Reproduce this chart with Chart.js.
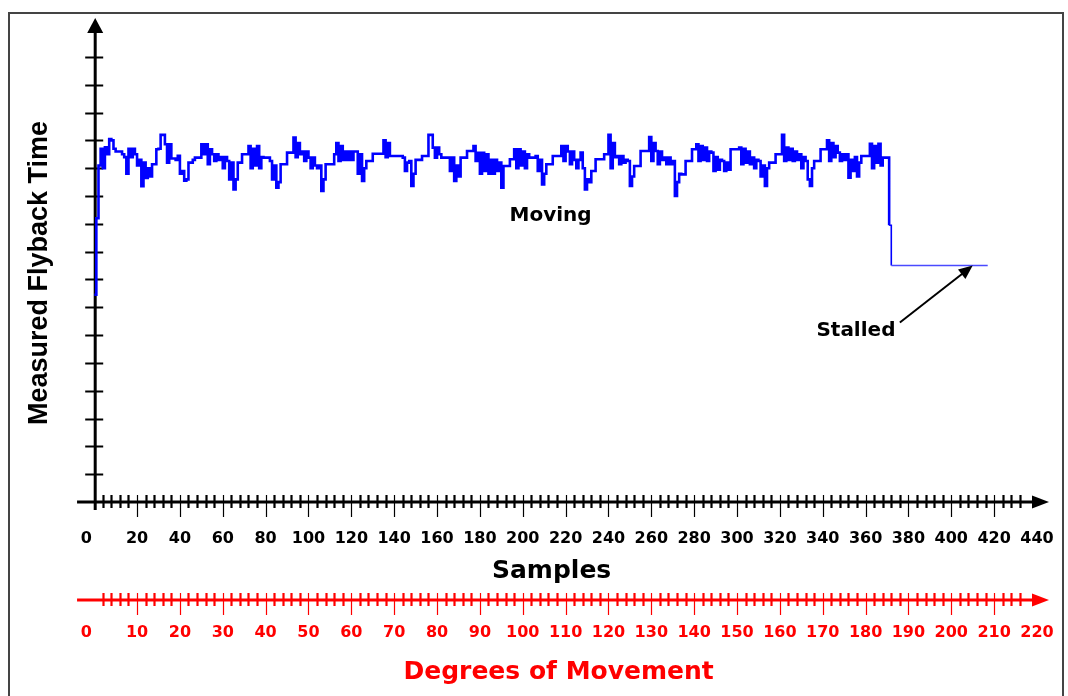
<!DOCTYPE html>
<html>
<head>
<meta charset="utf-8">
<script src="https://cdn.jsdelivr.net/npm/chart.js@4.4.0/dist/chart.umd.min.js"></script>
<style>
body { margin: 0; background: #fff; }
#wrap { width: 1068px; height: 696px; position: relative; }
</style>
</head>
<body>
<div id="wrap"><canvas id="flyback-chart"></canvas></div>
<script>
// flyback time per sample while moving (samples 0..370)
const movingTime = [
    7.45, 10.2, 12.1, 12.7, 12.0, 12.75, 12.5, 13.05, 13.0, 12.7,
    12.6, 12.6, 12.6, 12.5, 12.4, 11.8, 12.7, 12.4, 12.7, 12.5,
    12.1, 12.3, 11.35, 12.2, 11.65, 12.0, 11.7, 12.14, 12.14, 12.68,
    12.7, 13.2, 13.2, 12.86, 12.2, 12.86, 12.35, 12.35, 12.3, 12.45,
    11.8, 11.9, 11.55, 11.6, 12.2, 12.2, 12.3, 12.38, 12.38, 12.38,
    12.86, 12.5, 12.86, 12.14, 12.68, 12.5, 12.26, 12.5, 12.3, 12.4,
    12.0, 12.4, 12.26, 11.6, 12.2, 11.24, 11.6, 12.2, 12.2, 12.5,
    12.5, 12.5, 12.8, 12.0, 12.7, 12.1, 12.8, 12.0, 12.4, 12.38,
    12.38, 12.38, 12.26, 11.6, 12.1, 11.3, 11.5, 12.14, 12.14, 12.14,
    12.56, 12.56, 12.56, 13.1, 12.4, 12.9, 12.5, 12.6, 12.26, 12.6,
    12.38, 12.0, 12.38, 12.1, 12.0, 12.1, 11.18, 11.6, 12.14, 12.14,
    12.14, 12.14, 12.5, 12.9, 12.26, 12.8, 12.3, 12.6, 12.3, 12.6,
    12.3, 12.6, 12.6, 11.8, 12.5, 11.54, 12.0, 12.26, 12.26, 12.26,
    12.52, 12.52, 12.52, 12.52, 12.52, 13.0, 12.4, 12.9, 12.44, 12.44,
    12.44, 12.44, 12.44, 12.44, 12.38, 11.9, 12.2, 12.26, 11.36, 11.8,
    12.3, 12.3, 12.3, 12.44, 12.44, 12.44, 13.2, 13.2, 12.74, 12.38,
    12.74, 12.5, 12.38, 12.38, 12.38, 12.38, 11.9, 12.38, 11.54, 12.1,
    11.7, 12.38, 12.38, 12.38, 12.62, 12.62, 12.62, 12.8, 12.26, 12.55,
    11.8, 12.55, 11.9, 12.5, 11.8, 12.3, 11.8, 12.3, 11.9, 12.2,
    11.3, 12.08, 12.08, 12.08, 12.32, 12.32, 12.68, 12.0, 12.68, 12.1,
    12.6, 12.0, 12.5, 12.38, 12.38, 12.38, 12.44, 11.9, 12.3, 11.42,
    11.8, 12.14, 12.14, 12.14, 12.44, 12.44, 12.44, 12.44, 12.8, 12.26,
    12.8, 12.6, 12.14, 12.6, 12.3, 12.0, 12.3, 12.56, 12.0, 11.24,
    11.6, 11.5, 11.9, 11.9, 12.32, 12.32, 12.32, 12.32, 12.5, 12.5,
    13.2, 12.0, 12.9, 12.4, 12.44, 12.14, 12.44, 12.2, 12.3, 12.26,
    11.36, 11.7, 12.08, 12.08, 12.08, 12.62, 12.62, 12.62, 12.62, 13.12,
    12.26, 12.9, 12.62, 12.14, 12.6, 12.3, 12.38, 12.14, 12.38, 12.14,
    12.26, 11.0, 11.5, 11.8, 11.78, 11.78, 12.26, 12.26, 12.26, 12.68,
    12.68, 12.86, 12.26, 12.8, 12.3, 12.74, 12.26, 12.6, 12.56, 11.9,
    12.4, 11.95, 12.3, 12.26, 11.9, 12.2, 11.95, 12.68, 12.68, 12.68,
    12.68, 12.74, 12.14, 12.7, 12.2, 12.6, 12.14, 12.38, 12.0, 12.3,
    12.26, 11.7, 12.1, 11.36, 12.0, 12.2, 12.2, 12.2, 12.5, 12.5,
    12.5, 13.2, 12.26, 12.74, 12.3, 12.7, 12.26, 12.6, 12.3, 12.5,
    12.0, 12.4, 12.26, 11.6, 11.36, 12.0, 12.26, 12.26, 12.26, 12.68,
    12.68, 12.68, 13.0, 12.26, 12.9, 12.4, 12.8, 12.56, 12.26, 12.5,
    12.3, 12.5, 11.66, 12.3, 11.9, 12.4, 11.7, 12.2, 12.44, 12.44,
    12.44, 12.44, 12.88, 12.0, 12.8, 12.2, 12.88, 12.1, 12.38, 12.38,
    12.38
];

// after the motor stalls
const stallSamples = [371, 372, 417];
const stallTime = [9.95, 8.5, 8.5];

// axis tick labels
const sampleLabels = ['0', '20', '40', '60', '80', '100', '120', '140', '160', '180', '200', '220',
    '240', '260', '280', '300', '320', '340', '360', '380', '400', '420', '440'];
const degreeLabels = ['0', '10', '20', '30', '40', '50', '60', '70', '80', '90', '100', '110',
    '120', '130', '140', '150', '160', '170', '180', '190', '200', '210', '220'];
const yTickValues = [1, 2, 3, 4, 5, 6, 7, 8, 9, 10, 11, 12, 13, 14, 15, 16];

const flybackPoints = movingTime.map((v, i) => ({ x: i, y: v }))
    .concat(stallSamples.map((s, i) => ({ x: s, y: stallTime[i] })));

const RED = '#ff0000';
const tickFont = 'bold 16px "DejaVu Sans"';
const titleFont = 'bold 25px "DejaVu Sans"';
const noteFont = 'bold 20px "DejaVu Sans"';

function arrowHead(ctx, x, y, angle, len, half, color) {
    ctx.save();
    ctx.translate(x, y);
    ctx.rotate(angle);
    ctx.fillStyle = color;
    ctx.beginPath();
    ctx.moveTo(0, 0);
    ctx.lineTo(-len, -half);
    ctx.lineTo(-len, half);
    ctx.closePath();
    ctx.fill();
    ctx.restore();
}

// horizontal axis with crossing ticks, labels and title
function drawHAxis(ctx, scale, yLine, color, labels, minorStep, majorStep, lastTick, title, offsets) {
    const left = scale.getPixelForValue(-minorStep * 2);
    const right = scale.getPixelForValue(scale.max) + 12;
    ctx.strokeStyle = color;
    ctx.lineWidth = 3;
    ctx.beginPath();
    ctx.moveTo(left, yLine);
    ctx.lineTo(right - 6, yLine);
    ctx.stroke();
    arrowHead(ctx, right, yLine, 0, 17, 6.5, color);

    for (let v = minorStep; v <= lastTick; v += minorStep) {
        const px = Math.round(scale.getPixelForValue(v)) + 0.5;
        const major = v % majorStep === 0;
        ctx.lineWidth = major ? 1.2 : 2.2;
        ctx.beginPath();
        ctx.moveTo(px, yLine - 7);
        ctx.lineTo(px, yLine + (major ? 15 : 6));
        ctx.stroke();
    }

    ctx.fillStyle = color;
    ctx.font = tickFont;
    ctx.textAlign = 'center';
    ctx.textBaseline = 'middle';
    labels.forEach(l => {
        const v = Number(l);
        ctx.fillText(l, scale.getPixelForValue(v) + (v === 0 ? -8 : 0), yLine + offsets.label);
    });

    ctx.font = titleFont;
    ctx.fillText(title, (scale.left + scale.right) / 2 + offsets.titleX, yLine + offsets.title);
}

const axesPlugin = {
    id: 'axes',
    beforeDraw(chart) {
        const ctx = chart.ctx;
        ctx.save();
        ctx.strokeStyle = '#444';
        ctx.lineWidth = 2;
        ctx.strokeRect(9, 13, 1054, 700);
        ctx.restore();
    },
    beforeDatasetsDraw(chart) {
        const { ctx, scales: { x, y, deg } } = chart;
        const yZero = y.getPixelForValue(0);
        const xZero = x.getPixelForValue(0);
        ctx.save();

        // y axis
        ctx.strokeStyle = '#000';
        ctx.lineWidth = 3;
        ctx.beginPath();
        ctx.moveTo(xZero + 1, yZero + 8);
        ctx.lineTo(xZero + 1, y.getPixelForValue(y.max) + 10);
        ctx.stroke();
        arrowHead(ctx, xZero + 1, y.getPixelForValue(y.max), -Math.PI / 2, 15, 8, '#000');
        ctx.lineWidth = 2;
        yTickValues.forEach(v => {
            const py = Math.round(y.getPixelForValue(v)) + 0.5;
            ctx.beginPath();
            ctx.moveTo(xZero - 9, py);
            ctx.lineTo(xZero + 9, py);
            ctx.stroke();
        });

        ctx.save();
        ctx.translate(40, (y.top + y.bottom) / 2 + 13);
        ctx.rotate(-Math.PI / 2);
        ctx.fillStyle = '#000';
        ctx.font = 'bold 27px "Liberation Sans", Arial';
        ctx.textAlign = 'center';
        ctx.textBaseline = 'middle';
        ctx.fillText('Measured Flyback Time', 0, 0);
        ctx.restore();

        // samples axis and degrees axis
        drawHAxis(ctx, x, yZero, '#000', sampleLabels, 4, 20, 432, 'Samples',
            { label: 37, title: 69, titleX: -14 });
        drawHAxis(ctx, deg, yZero + 98, RED, degreeLabels, 2, 10, 216, 'Degrees of Movement',
            { label: 33, title: 72, titleX: -7 });

        ctx.restore();
    },
    afterDatasetsDraw(chart) {
        const { ctx, scales: { x, y } } = chart;
        ctx.save();
        ctx.fillStyle = '#000';
        ctx.font = noteFont;
        ctx.textAlign = 'center';
        ctx.textBaseline = 'middle';
        ctx.fillText('Moving', x.getPixelForValue(213), y.getPixelForValue(10.3));
        ctx.fillText('Stalled', x.getPixelForValue(355.5), y.getPixelForValue(6.15));

        // arrow to the stalled line
        const x1 = x.getPixelForValue(376), y1 = y.getPixelForValue(6.45);
        const x2 = x.getPixelForValue(410), y2 = y.getPixelForValue(8.5);
        const ang = Math.atan2(y2 - y1, x2 - x1);
        ctx.strokeStyle = '#000';
        ctx.lineWidth = 2;
        ctx.beginPath();
        ctx.moveTo(x1, y1);
        ctx.lineTo(x2 - 10 * Math.cos(ang), y2 - 10 * Math.sin(ang));
        ctx.stroke();
        arrowHead(ctx, x2, y2, ang, 14, 6, '#000');
        ctx.restore();
    }
};

const chartCanvas = document.getElementById('flyback-chart');

let flybackChart = new Chart(chartCanvas, {
    type: 'line',
    data: {
        datasets: [{
            data: flybackPoints,
            borderColor: '#0000ff',
            borderWidth: 2.6,
            pointRadius: 0,
            stepped: true,
            fill: false,
            segment: {
                borderWidth: c => c.p0DataIndex >= movingTime.length ? 1.6 : 2.6,
                borderColor: c => c.p0DataIndex >= movingTime.length + 1 ? '#4a4aff' : '#0000ff'
            }
        }]
    },
    options: {
        responsive: true,
        maintainAspectRatio: false,
        animation: false,
        layout: {
            padding: { left: 94.2, right: 31, top: 18, bottom: 194 }
        },
        scales: {
            x: { type: 'linear', min: 0, max: 440, display: false },
            deg: { type: 'linear', axis: 'x', min: 0, max: 220, display: false },
            y: { type: 'linear', min: 0, max: 17.4, display: false }
        },
        plugins: {
            legend: { display: false },
            tooltip: { enabled: false }
        }
    },
    plugins: [axesPlugin]
});
</script>
</body>
</html>
